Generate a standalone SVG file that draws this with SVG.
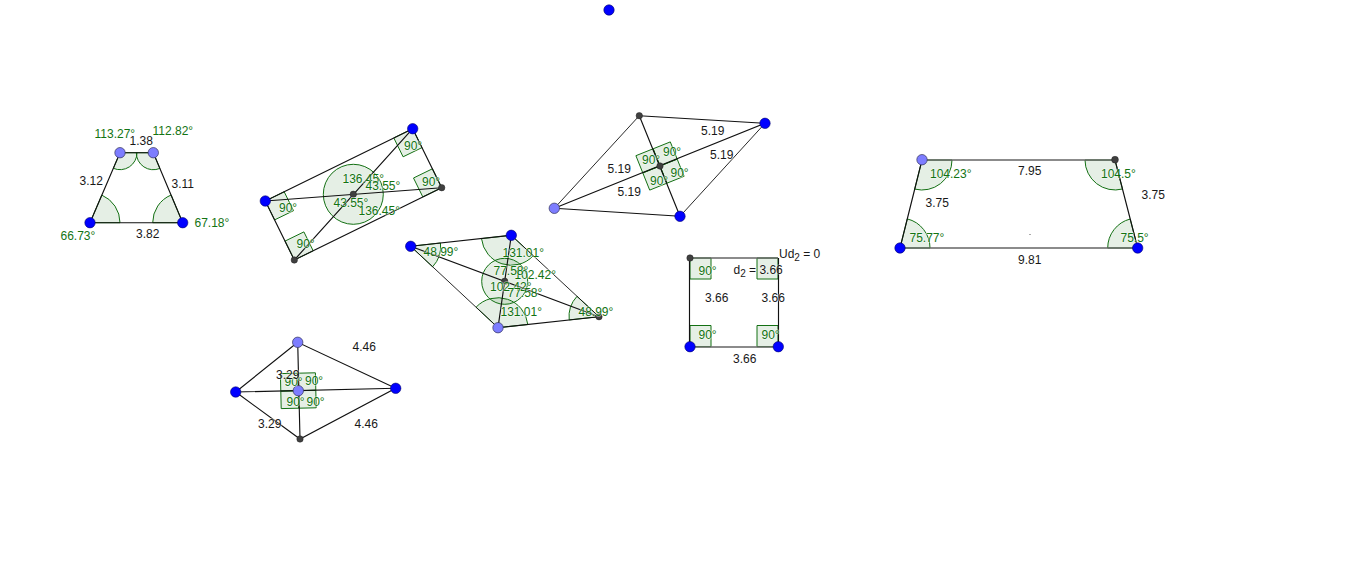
<svg xmlns="http://www.w3.org/2000/svg" width="1368" height="582" viewBox="0 0 1368 582">
<style>
text{font-family:"Liberation Sans",Arial,sans-serif;font-size:12px;opacity:.97;paint-order:stroke;stroke:#fff;stroke-opacity:.5;stroke-width:1.6px;stroke-linejoin:round}
.g{fill:#0c700c}
.k{fill:#111}
.a{fill:#006400;fill-opacity:.1;stroke:#137013;stroke-width:1}
.l{stroke:#111;stroke-width:1.15;fill:none}
.t{stroke-width:.9}
.h{stroke:#666;stroke-width:1.6;fill:none}
.b{fill:#0000ff;stroke:#00006a;stroke-width:.6}
.p{fill:#7d7dff;stroke:#33335a;stroke-width:.7}
.d{fill:#404040;stroke:#222;stroke-width:.5}
</style>
<rect width="1368" height="582" fill="#fff"/>
<circle id="free-point" class="b" cx="609" cy="10" r="5.2"/>

<g id="trapezoid-left">
<path class="a" d="M90,222.7L120,222.7A30,30 0 0 0 101.8,195.1Z"/>
<path class="a" d="M182.7,222.7L152.7,222.7A30,30 0 0 1 171.1,195Z"/>
<path class="a" d="M120,152.7L137,152.7A17,17 0 0 1 113.3,168.3Z"/>
<path class="a" d="M153.3,152.7L136.3,152.7A17,17 0 0 0 159.9,168.4Z"/>
<path class="l" d="M90,222.7L182.7,222.7L153.3,152.7L120,152.7Z"/>
<circle class="b" cx="90" cy="222.7" r="5.2"/><circle class="b" cx="182.7" cy="222.7" r="5.2"/>
<circle class="p" cx="120" cy="152.7" r="5.2"/><circle class="p" cx="153.3" cy="152.7" r="5.2"/>
<text class="g" x="94.5" y="137.5">113.27°</text><text class="k" x="129.5" y="145">1.38</text><text class="g" x="152.5" y="135">112.82°</text>
<text class="k" x="79.5" y="185">3.12</text><text class="k" x="171.5" y="188">3.11</text><text class="k" x="136" y="238">3.82</text>
<text class="g" x="60.5" y="240">66.73°</text><text class="g" x="194.5" y="227">67.18°</text>
</g>

<g id="rectangle">
<polygon class="a" points="412.7,128.7 393.8,137.9 403.1,156.8 422,147.6"/>
<polygon class="a" points="441.7,187.7 432.4,168.8 413.5,178 422.8,196.9"/>
<polygon class="a" points="265.3,201 284.2,191.8 293.5,210.7 274.6,219.9"/>
<polygon class="a" points="294.3,260 285,241.1 303.9,231.9 313.2,250.8"/>
<circle class="a" cx="353.3" cy="194.3" r="30"/>
<path class="l" d="M412.7,128.7L265.3,201L294.3,260L441.7,187.7Z"/>
<path class="l" d="M412.7,128.7L294.3,260M265.3,201L441.7,187.7"/>
<circle class="b" cx="412.7" cy="128.7" r="5.2"/><circle class="b" cx="265.3" cy="201" r="5.2"/>
<circle class="d" cx="294.3" cy="260" r="3.2"/><circle class="d" cx="441.7" cy="187.7" r="3.2"/><circle class="d" cx="353.3" cy="194.3" r="3.2"/>
<text class="g" x="404" y="150">90°</text><text class="g" x="422" y="186">90°</text><text class="g" x="279" y="212">90°</text><text class="g" x="296.5" y="248">90°</text>
<text class="g" x="342.5" y="183">136.45°</text><text class="g" x="365.5" y="190">43.55°</text><text class="g" x="333.5" y="207">43.55°</text><text class="g" x="358.5" y="214.5">136.45°</text>
</g>

<g id="kite-center">
<path class="a" d="M410.7,246.3L440.5,243A30,30 0 0 1 432.6,266.8Z"/>
<path class="a" d="M599,316.7L577,296.3A30,30 0 0 0 569.2,319.9Z"/>
<path class="a" d="M511.3,235.3L481.5,238.6A30,30 0 0 0 533.3,255.7Z"/>
<path class="a" d="M498,327.7L476.1,307.2A30,30 0 0 1 527.8,324.5Z"/>
<circle class="a" cx="504.7" cy="281.3" r="23"/>
<path class="l" d="M410.7,246.3L511.3,235.3M599,316.7L498,327.7M410.7,246.3L599,316.7M511.3,235.3L498,327.7"/>
<path class="l t" d="M511.3,235.3L599,316.7M498,327.7L410.7,246.3"/>
<circle class="b" cx="410.7" cy="246.3" r="5.2"/><circle class="b" cx="511.3" cy="235.3" r="5.2"/><circle class="p" cx="498" cy="327.7" r="5.2"/>
<circle class="d" cx="599" cy="316.7" r="3.2"/><circle class="d" cx="504.7" cy="281.3" r="3.2"/>
<text class="g" x="423.5" y="256">48.99°</text><text class="g" x="502.5" y="257">131.01°</text>
<text class="g" x="514.5" y="278.5">102.42°</text><text class="g" x="490" y="291">102.42°</text>
<text class="g" x="493.5" y="274.5">77.58°</text><text class="g" x="507.5" y="297">77.58°</text>
<text class="g" x="500.5" y="316">131.01°</text><text class="g" x="578.5" y="315.5">48.99°</text>
</g>

<g id="kite-lower">
<polygon class="a" points="298.3,390.7 297.9,373.2 280.4,373.6 280.8,391.1"/>
<polygon class="a" points="298.3,390.7 297.9,373.2 315.4,372.8 315.8,390.3"/>
<polygon class="a" points="298.3,390.7 280.8,391.1 281.2,408.6 298.7,408.2"/>
<polygon class="a" points="298.3,390.7 298.7,408.2 316.2,407.8 315.8,390.3"/>
<path class="l" d="M297.7,342.3L235.7,392L300,439L395.7,388.3Z"/>
<path class="l" d="M297.7,342.3L300,439M235.7,392L395.7,388.3"/>
<circle class="p" cx="297.7" cy="342.3" r="5.2"/><circle class="p" cx="298.3" cy="390.7" r="5.2"/>
<circle class="b" cx="235.7" cy="392" r="5.2"/><circle class="b" cx="395.7" cy="388.3" r="5.2"/>
<circle class="d" cx="300" cy="439" r="3.2"/>
<text class="g" x="284.5" y="386">90°</text><text class="g" x="305" y="385">90°</text><text class="g" x="286.5" y="406">90°</text><text class="g" x="306.5" y="406">90°</text>
<text class="k" x="276" y="379">3.29</text><text class="k" x="258" y="428">3.29</text><text class="k" x="352.5" y="351">4.46</text><text class="k" x="354.5" y="428">4.46</text>
</g>

<g id="kite-upper">
<polygon class="a" points="660,166 653.1,148.8 635.9,155.7 642.8,172.9"/>
<polygon class="a" points="660,166 653.1,148.8 670.3,141.9 677.2,159.1"/>
<polygon class="a" points="660,166 677.2,159.1 684.1,176.3 666.9,183.2"/>
<polygon class="a" points="660,166 666.9,183.2 649.7,190.1 642.8,172.9"/>
<path class="l" d="M639.3,115.7L765,123.3M680,216.3L554.3,208.3M554.3,208.3L765,123.3M639.3,115.7L680,216.3"/>
<path class="l t" d="M765,123.3L680,216.3M554.3,208.3L639.3,115.7"/>
<circle class="b" cx="765" cy="123.3" r="5.2"/><circle class="b" cx="680" cy="216.3" r="5.2"/><circle class="p" cx="554.3" cy="208.3" r="5.2"/>
<circle class="d" cx="639.3" cy="115.7" r="3.2"/><circle class="d" cx="660" cy="166" r="3.2"/>
<text class="g" x="642" y="163.5">90°</text><text class="g" x="663" y="156">90°</text><text class="g" x="670.5" y="177">90°</text><text class="g" x="650" y="184.5">90°</text>
<text class="k" x="701" y="134.5">5.19</text><text class="k" x="710" y="158.5">5.19</text><text class="k" x="607.5" y="173">5.19</text><text class="k" x="617.5" y="196">5.19</text>
</g>

<g id="square">
<polygon class="a" points="690,258 711,258 711,279 690,279"/>
<polygon class="a" points="757,258 778,258 778,279 757,279"/>
<polygon class="a" points="690,325.5 711,325.5 711,346.7 690,346.7"/>
<polygon class="a" points="757,325.5 778,325.5 778,346.7 757,346.7"/>
<path class="h" d="M690,258L778,258M690,347L778,347"/>
<path class="l" d="M689.5,258L689.5,347M778.5,258L778.5,347"/>
<circle class="d" cx="690" cy="258" r="3.2"/><circle class="b" cx="690" cy="346.7" r="5.2"/><circle class="b" cx="778.3" cy="346.7" r="5.2"/>
<text class="g" x="698.5" y="275">90°</text><text class="g" x="698.5" y="338.5">90°</text><text class="g" x="761.5" y="338.5">90°</text>
<text class="k" x="705" y="302">3.66</text><text class="k" x="761.5" y="302">3.66</text><text class="k" x="733" y="362.5">3.66</text>
<text class="k" x="733.5" y="273.5">d<tspan dy="3" font-size="10">2</tspan><tspan dy="-3"> = 3.66</tspan></text>
<text class="k" x="779" y="257.5">Ud<tspan dy="3" font-size="10">2</tspan><tspan dy="-3"> = 0</tspan></text>
</g>

<g id="trapezoid-right">
<path class="a" d="M922,160L952,160A30,30 0 0 1 914.7,189.1Z"/>
<path class="a" d="M900,248L930,248A30,30 0 0 0 907.3,218.9Z"/>
<path class="a" d="M1115,160L1085,160A30,30 0 0 0 1122.5,189Z"/>
<path class="a" d="M1137.7,248L1107.7,248A30,30 0 0 1 1130.2,219Z"/>
<path class="h" d="M922,160L1115,160M900,248L1137.7,248"/>
<path class="l" d="M922,160L900,248M1115,160L1137.7,248"/>
<rect x="1029" y="234" width="2" height="1" fill="#aaa"/>
<circle class="p" cx="922" cy="159.7" r="5.2"/><circle class="b" cx="900" cy="248" r="5.2"/><circle class="b" cx="1137.7" cy="248" r="5.2"/>
<circle class="d" cx="1115" cy="159.7" r="3.4"/>
<text class="g" x="930" y="178">104.23°</text><text class="g" x="909.5" y="242">75.77°</text><text class="g" x="1101" y="178">104.5°</text><text class="g" x="1120.5" y="242">75.5°</text>
<text class="k" x="925.5" y="207">3.75</text><text class="k" x="1141.5" y="199">3.75</text><text class="k" x="1018" y="175">7.95</text><text class="k" x="1018" y="264">9.81</text>
</g>
</svg>
